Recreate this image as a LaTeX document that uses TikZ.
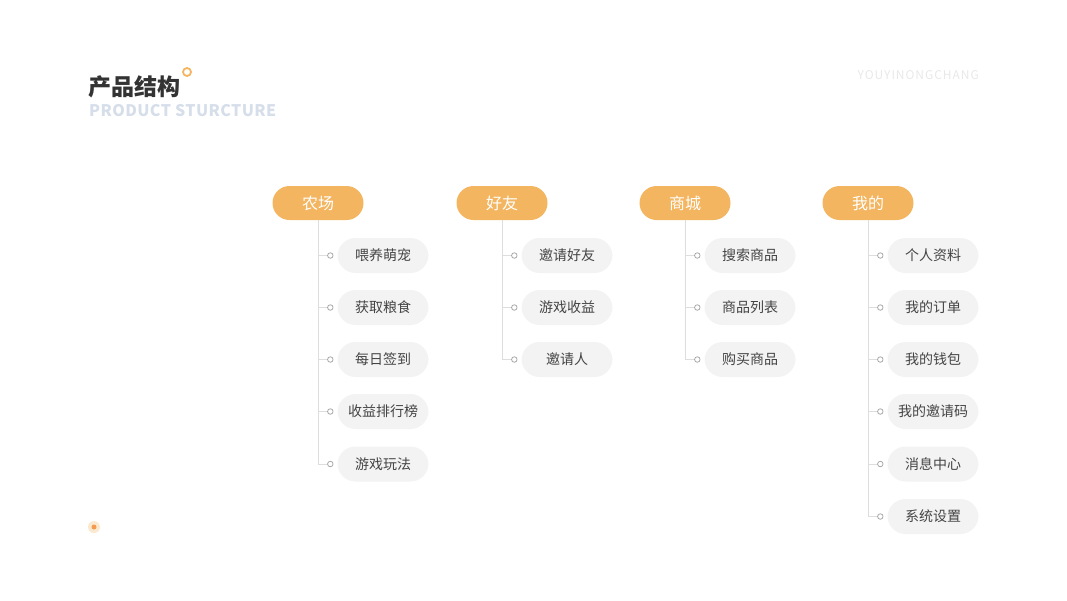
\documentclass[tikz,border=0pt]{standalone}
\usepackage{fontspec}
\newfontfamily\cjk{Noto Sans CJK SC}
\newfontfamily\cjksp[LetterSpace=2.5]{Noto Sans CJK SC}
\newfontfamily\cjkwm[LetterSpace=8]{Noto Sans CJK SC}
\definecolor{orangeA}{HTML}{F3B55F}
\definecolor{pillgray}{HTML}{F3F3F3}
\definecolor{txtgray}{HTML}{444444}
\definecolor{linegray}{HTML}{DDDDDD}
\definecolor{dotgray}{HTML}{AAAAAA}
\definecolor{titlegray}{HTML}{333333}
\definecolor{subblue}{HTML}{D6DEEA}
\definecolor{wmark}{HTML}{E8E8E8}
\tikzset{
  head/.style={fill=orangeA, rounded corners=17pt, minimum width=91pt, minimum height=34pt, inner sep=0pt, text=white, font=\cjk\fontsize{16}{16}\selectfont},
  leaf/.style={fill=pillgray, rounded corners=18pt, minimum width=91pt, minimum height=35pt, inner sep=0pt, text=txtgray, font=\cjk\fontsize{14}{14}\selectfont},
  knob/.style={circle, draw=dotgray, fill=white, line width=0.8pt, minimum size=5.5pt, inner sep=0pt},
  conn/.style={draw=linegray, line width=1pt},
}
\begin{document}
\begin{tikzpicture}[x=1pt,y=-1pt]
\useasboundingbox (0,0) rectangle (1067,600);
% titles
\node[anchor=west, inner sep=0pt, text=titlegray, font=\cjk\bfseries\fontsize{23}{23}\selectfont] (title) at (88,87) {产品结构};
\node[circle, draw=orangeA, line width=1.8pt, minimum size=8pt, inner sep=0pt] (tdot) at (187,72) {};
\node[anchor=west, inner sep=0pt, text=subblue, font=\cjksp\bfseries\fontsize{16}{16}\selectfont] (sub) at (89,111) {PRODUCT STURCTURE};
\node[anchor=east, inner sep=0pt, text=wmark, font=\cjkwm\fontsize{12}{12}\selectfont] (wm) at (979,75.5) {YOUYINONGCHANG};
\fill[orangeA!30] (94,527) circle (6pt);
\node[circle, fill=orangeA!85!red, minimum size=5pt, inner sep=0pt] (bdot) at (94,527) {};
% headers
\node[head] (h1) at (318,203) {农场};
\node[head] (h2) at (502,203) {好友};
\node[head] (h3) at (685,203) {商城};
\node[head] (h4) at (868,203) {我的};
% column 1
\node[leaf] (a1) at (383,255.5) {喂养萌宠};
\node[leaf] (a2) at (383,307.5) {获取粮食};
\node[leaf] (a3) at (383,359.5) {每日签到};
\node[leaf] (a4) at (383,411.5) {收益排行榜};
\node[leaf] (a5) at (383,464) {游戏玩法};
% column 2
\node[leaf] (b1) at (567,255.5) {邀请好友};
\node[leaf] (b2) at (567,307.5) {游戏收益};
\node[leaf] (b3) at (567,359.5) {邀请人};
% column 3
\node[leaf] (c1) at (750,255.5) {搜索商品};
\node[leaf] (c2) at (750,307.5) {商品列表};
\node[leaf] (c3) at (750,359.5) {购买商品};
% column 4
\node[leaf] (d1) at (933,255.5) {个人资料};
\node[leaf] (d2) at (933,307.5) {我的订单};
\node[leaf] (d3) at (933,359.5) {我的钱包};
\node[leaf] (d4) at (933,411.5) {我的邀请码};
\node[leaf] (d5) at (933,464) {消息中心};
\node[leaf] (d6) at (933,516.5) {系统设置};
% connectors
\foreach \h/\list in {h1/{a1,a2,a3,a4,a5}, h2/{b1,b2,b3}, h3/{c1,c2,c3}, h4/{d1,d2,d3,d4,d5,d6}}{
  \foreach \c in \list {
    \node[knob] (k\c) at ([xshift=-7pt]\c.west) {};
    \draw[conn] (\h.south) |- (k\c.west);
  }
}
\end{tikzpicture}
\end{document}
